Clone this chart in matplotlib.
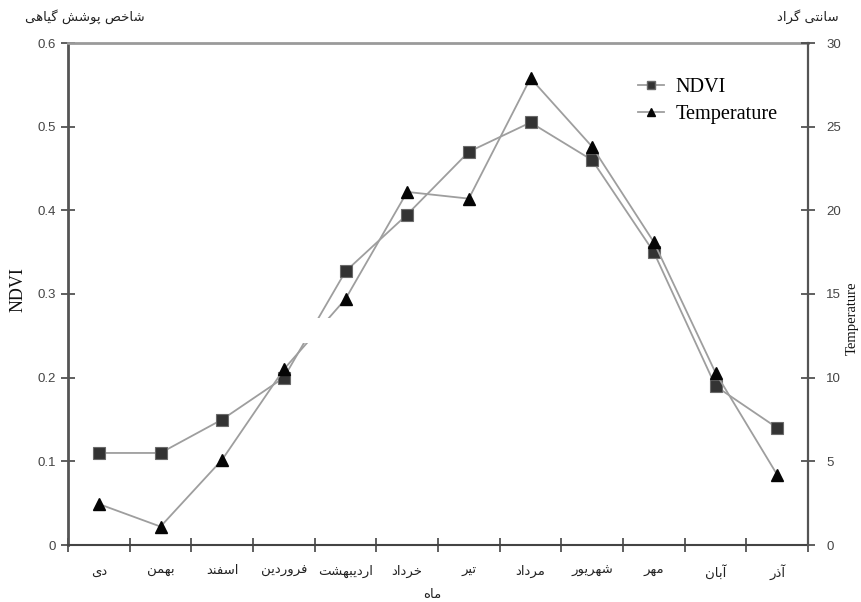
import matplotlib
matplotlib.use("Agg")
import matplotlib.pyplot as plt
from matplotlib.patches import Rectangle
from matplotlib import font_manager
from matplotlib.lines import Line2D

# ---------------- data ----------------
months = ['دی', 'بهمن', 'اسفند', 'فروردین', 'اردیبهشت', 'خرداد',
          'تیر', 'مرداد', 'شهریور', 'مهر', 'آبان', 'آذر']
ndvi = [0.11, 0.11, 0.15, 0.20, 0.327, 0.395, 0.47, 0.505, 0.46, 0.35, 0.19, 0.14]
temperature = [2.45, 1.1, 5.1, 10.5, 14.7, 21.1, 20.7, 27.9, 23.8, 18.1, 10.3, 4.2]
ndvi_ticks = [0, 0.1, 0.2, 0.3, 0.4, 0.5, 0.6]
ndvi_ticklabels = ['0', '0.1', '0.2', '0.3', '0.4', '0.5', '0.6']
temp_ticks = [0, 5, 10, 15, 20, 25, 30]
x_label = 'ماه'
left_title = 'شاخص پوشش گیاهی'
right_title = 'سانتی گراد'

# ---------------- simple Persian shaping (presentation forms, visual order) ----------------
FA_FONT = 'DejaVu Sans'
try:
    from fontTools.ttLib import TTFont
    _cmap = TTFont(font_manager.findfont(FA_FONT)).getBestCmap()
except Exception:
    _cmap = None

def _has(ch):
    return _cmap is None or ord(ch) in _cmap

FORMS = {
    '\u0627': ('\uFE8D', '\uFE8E', None, None),
    '\u0622': ('\uFE81', '\uFE82', None, None),
    '\u062F': ('\uFEA9', '\uFEAA', None, None),
    '\u0630': ('\uFEAB', '\uFEAC', None, None),
    '\u0631': ('\uFEAD', '\uFEAE', None, None),
    '\u0632': ('\uFEAF', '\uFEB0', None, None),
    '\u0648': ('\uFEED', '\uFEEE', None, None),
    '\u0628': ('\uFE8F', '\uFE90', '\uFE91', '\uFE92'),
    '\u067E': ('\uFB56', '\uFB57', '\uFB58', '\uFB59'),
    '\u062A': ('\uFE95', '\uFE96', '\uFE97', '\uFE98'),
    '\u062E': ('\uFEA5', '\uFEA6', '\uFEA7', '\uFEA8'),
    '\u0633': ('\uFEB1', '\uFEB2', '\uFEB3', '\uFEB4'),
    '\u0634': ('\uFEB5', '\uFEB6', '\uFEB7', '\uFEB8'),
    '\u0635': ('\uFEB9', '\uFEBA', '\uFEBB', '\uFEBC'),
    '\u0641': ('\uFED1', '\uFED2', '\uFED3', '\uFED4'),
    '\u06AF': ('\uFB92', '\uFB93', '\uFB94', '\uFB95'),
    '\u0645': ('\uFEE1', '\uFEE2', '\uFEE3', '\uFEE4'),
    '\u0646': ('\uFEE5', '\uFEE6', '\uFEE7', '\uFEE8'),
    '\u0647': ('\uFEE9', '\uFEEA', '\uFEEB', '\uFEEC'),
    '\u06CC': ('\uFBFC', '\uFBFD', '\uFBFE', '\uFBFF'),
}
YEH_FALLBACK = ('\uFEEF', '\uFEF0', '\uFEF3', '\uFEF4')

def shape(text):
    out = []
    n = len(text)
    for i, c in enumerate(text):
        if c not in FORMS:
            out.append(c)
            continue
        prev = text[i - 1] if i > 0 else None
        nxt = text[i + 1] if i + 1 < n else None
        join_prev = prev in FORMS and FORMS[prev][2] is not None
        join_next = nxt in FORMS and FORMS[c][2] is not None
        forms = FORMS[c]
        if c == '\u06CC' and not _has(forms[0]):
            forms = YEH_FALLBACK
        if join_prev and join_next:
            g = forms[3]
        elif join_prev:
            g = forms[1]
        elif join_next:
            g = forms[2]
        else:
            g = forms[0]
        if g is None or not _has(g):
            g = c
        out.append(g)
    return ''.join(reversed(out))

# ---------------- figure ----------------
W, H = 861, 602
fig = plt.figure(figsize=(W / 100, H / 100), dpi=100)
ax = fig.add_axes([68 / W, 1 - 545 / H, (808 - 68) / W, (545 - 43) / H])
ax2 = ax.twinx()

x = list(range(len(months)))
line_col = '#9e9e9e'

ax.plot(x, ndvi, color=line_col, lw=1.3, marker='s', markersize=8,
        markerfacecolor='#333333', markeredgecolor='#6a6a6a', markeredgewidth=0.8,
        zorder=3)
ax2.plot(x, temperature, color=line_col, lw=1.3, marker='^', markersize=8,
         markerfacecolor='#050505', markeredgecolor='#050505', zorder=3)

ax.set_xlim(-0.5, len(months) - 0.5)
ax.set_ylim(0, 0.6)
ax2.set_ylim(0, 30)

# white gap present in the reference image
ax2.add_patch(Rectangle((3.15, 12.07), 0.7, 1.5, facecolor='white',
                        edgecolor='none', zorder=5))

lab_col = '#444444'
tick_font = dict(family='Liberation Sans', size=9.5, color=lab_col)

ax.set_yticks(ndvi_ticks)
ax.set_yticklabels(ndvi_ticklabels, fontdict=tick_font)
ax2.set_yticks(temp_ticks)
ax2.set_yticklabels([str(t) for t in temp_ticks], fontdict=tick_font)

# x: boundary ticks, centered labels
ax.set_xticks([i - 0.5 for i in range(len(months) + 1)])
ax.set_xticklabels([])
ax.set_xticks(x, minor=True)
ax.set_xticklabels([shape(m) for m in months], minor=True,
                   family=FA_FONT, fontsize=9.5, color='#222222')
ax.tick_params(axis='x', which='minor', length=0, pad=14)
ax.tick_params(axis='x', which='major', direction='inout', length=10,
               width=1.2, color='#444444')
ax.tick_params(axis='y', direction='inout', length=10, width=1.2,
               color='#444444', pad=4)
ax2.tick_params(axis='y', direction='inout', length=10, width=1.2,
                color='#444444', pad=8)

for a in (ax, ax2):
    for s in a.spines.values():
        s.set_visible(False)
ax.spines['left'].set_visible(True)
ax.spines['left'].set_color('#555555')
ax.spines['left'].set_linewidth(2.0)
ax.spines['bottom'].set_visible(True)
ax.spines['bottom'].set_color('#444444')
ax.spines['bottom'].set_linewidth(1.5)
ax.spines['top'].set_visible(True)
ax.spines['top'].set_color('#9a9a9a')
ax.spines['top'].set_linewidth(2.0)
ax2.spines['right'].set_visible(True)
ax2.spines['right'].set_color('#555555')
ax2.spines['right'].set_linewidth(1.6)

# legend
handles = [
    Line2D([], [], color=line_col, lw=1.3, marker='s', markersize=5.5,
           markerfacecolor='#333333', markeredgecolor='#6a6a6a'),
    Line2D([], [], color=line_col, lw=1.3, marker='^', markersize=5.5,
           markerfacecolor='#050505', markeredgecolor='#050505'),
]
leg = ax2.legend(handles, ['NDVI', 'Temperature'], loc='upper left',
                 bbox_to_anchor=((638 - 68) / 740, (545 - 78) / 502),
                 frameon=False, handlelength=1.3, handletextpad=0.55,
                 labelspacing=0.4, borderpad=0, borderaxespad=0,
                 prop=dict(family='Liberation Serif', size=14.6))

# axis labels and titles
fig.text(18 / W, 1 - 290 / H, 'NDVI', rotation=90, ha='center', va='center',
         family='Liberation Serif', fontsize=13, color='#111111')
fig.text(852 / W, 1 - 318 / H, 'Temperature', rotation=90, ha='center', va='center',
         family='Liberation Serif', fontsize=10.5, color='#111111')
fig.text(432 / W, 1 - 595 / H, shape(x_label), ha='center', va='center',
         family=FA_FONT, fontsize=9.5, color='#222222')
fig.text(85 / W, 1 - 17 / H, shape(left_title), ha='center', va='center',
         family=FA_FONT, fontsize=9.5, color='#222222')
fig.text(808 / W, 1 - 17 / H, shape(right_title), ha='center', va='center',
         family=FA_FONT, fontsize=9.5, color='#222222')

fig.savefig('out.png', dpi=100, facecolor='white')
